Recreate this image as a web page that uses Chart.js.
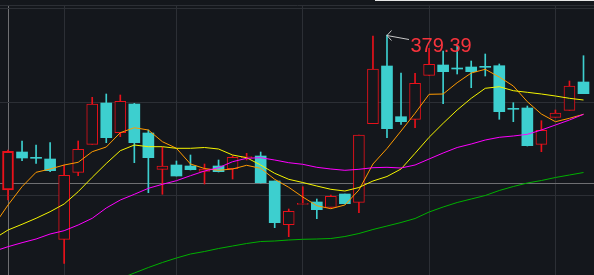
<!DOCTYPE html>
<html>
<head>
<meta charset="utf-8">
<title>K线</title>
<script src="https://cdn.jsdelivr.net/npm/chart.js@4.4.0/dist/chart.umd.min.js"></script>
<style>
    html, body { margin: 0; padding: 0; background: #14171c; overflow: hidden; }
    #wrap { width: 594px; height: 275px; position: relative; }
</style>
</head>
<body>
<div id="wrap"><canvas id="kline"></canvas></div>
<script>
// Day 0 sits just off the left edge: only its moving averages show
const opens  = [null, 317.39, 332.59, 330.09, 329.79, 297.67, 324.47, 335.67, 352.19, 340.31, 351.79,
                340.19, 325.67, 327.39, 326.99, 324.87, 326.99, 325.91, 330.35, 330.99, 320.99,
                303.51, 311.63, 312.59, 310.47, 315.79, 312.47, 343.91, 366.99, 346.71, 345.67,
                363.27, 367.39, 365.81, 366.59, 366.49, 367.11, 349.69, 350.19, 335.67, 346.47,
                349.27, 360.59];
const highs  = [null, 333.39, 336.99, 335.39, 336.31, 327.39, 336.99, 354.47, 355.79, 355.39, 352.07,
                341.39, 334.47, 328.99, 331.39, 327.79, 329.39, 331.11, 332.07, 332.59, 320.99,
                309.79, 318.71, 313.79, 315.39, 315.79, 339.39, 378.99, 379.39, 364.19, 364.07,
                374.07, 372.99, 375.39, 368.99, 371.79, 367.79, 352.31, 350.99, 345.11, 349.39,
                360.99, 371.11];
const lows   = [null, 313.39, 329.11, 328.07, 324.71, 288.07, 323.11, 335.67, 336.31, 338.71, 328.31,
                316.31, 315.67, 322.99, 325.39, 319.79, 324.59, 321.79, 329.39, 320.19, 302.31,
                298.71, 311.67, 305.91, 310.47, 311.79, 308.31, 343.91, 338.31, 343.67, 342.31,
                363.27, 351.91, 363.79, 358.31, 362.99, 345.67, 344.71, 334.99, 332.71, 346.47,
                349.27, 355.91];
const closes = [null, 332.87, 330.19, 330.07, 325.11, 323.27, 333.67, 351.79, 338.31, 352.87, 336.31,
                330.31, 326.99, 322.99, 325.51, 325.79, 324.71, 330.47, 330.39, 320.31, 304.31,
                308.87, 311.67, 309.51, 314.87, 311.91, 339.39, 365.79, 341.91, 344.71, 360.07,
                367.67, 364.71, 365.79, 364.71, 366.47, 348.71, 349.67, 335.11, 341.27, 348.19,
                358.99, 355.91];

// moving averages
const ma5  = [303.19, 311.39, 318.71, 324.47, 325.79, 327.39, 328.47, 332.71, 334.59, 340.31, 342.31,
              341.39, 336.71, 334.07, 327.79, 325.99, 325.27, 325.79, 327.27, 326.07, 321.67,
              318.47, 314.59, 311.11, 309.91, 311.39, 317.39, 327.79, 333.99, 340.99, 348.07,
              355.67, 355.79, 360.31, 364.19, 365.67, 362.59, 358.99, 352.71, 347.79, 344.71,
              346.07, 347.67];
const ma10 = [297.87, 301.39, 303.67, 306.07, 308.71, 311.79, 316.71, 322.47, 327.99, 333.11, 335.39,
              334.71, 334.71, 334.07, 334.07, 334.39, 333.79, 331.39, 330.31, 327.39, 324.07,
              321.67, 320.39, 318.99, 317.67, 316.99, 318.39, 320.99, 322.79, 325.79, 332.07,
              338.47, 344.07, 349.39, 354.07, 358.07, 358.71, 357.11, 356.47, 355.79, 354.99,
              354.07, 353.39];
const ma20 = [292.87, 294.71, 296.31, 297.79, 299.79, 301.11, 303.39, 306.07, 310.19, 313.39, 315.67,
              318.07, 319.67, 321.11, 323.11, 324.99, 326.31, 328.71, 330.07, 330.31, 329.39,
              328.31, 327.67, 326.47, 325.79, 325.27, 325.67, 326.31, 326.47, 326.19, 327.39,
              329.79, 332.19, 334.39, 335.79, 337.39, 338.47, 338.99, 339.67, 341.39, 343.39,
              345.39, 347.67];
const ma60 = [null, null, null, null, null, null, null, null, null, 281.95, 284.19,
              286.39, 288.39, 290.19, 291.79, 292.79, 293.99, 294.99, 295.99, 296.79, 296.99,
              297.39, 297.67, 297.79, 297.99, 298.79, 299.99, 301.59, 302.99, 304.39, 305.99,
              308.59, 310.59, 312.39, 313.79, 315.19, 317.19, 318.79, 320.19, 321.19, 322.39,
              323.39, 324.39];

const days = opens.map((_, i) => i);

// grid lines (month breaks) and the crosshair
const dayGrid = [5, 13, 22, 31, 40];
const priceGrid = [389.79, 352.19, 314.99];
const crossDay = 1;
const crossPrice = 319.79;

const BG = '#14171c';
const GRID = '#2c2f35';
const CROSS = '#6e6f72';
const RED = '#e8111a';
const CYAN = '#3dcfcf';

const candleDays = days.filter(i => opens[i] !== null);
const isUp = i => closes[i] > opens[i];

const wickData = candleDays.map(i => ({ x: i, y: [lows[i], highs[i]] }));
const bodyData = candleDays.map(i => ({ x: i, y: [opens[i], closes[i]] }));
const wickColors = candleDays.map(i => isUp(i) ? RED : CYAN);
const bodyFill = candleDays.map(i => isUp(i) ? BG : CYAN);
const bodyBorder = candleDays.map(i => isUp(i) ? RED : CYAN);
const bodyBorderWidth = candleDays.map(i => i === crossDay ? 2 : (isUp(i) ? 1 : 0));

function maLine(values, color) {
    return {
        type: 'line',
        data: days.map(i => ({ x: i, y: values[i] })),
        borderColor: color,
        borderWidth: 1,
        pointRadius: 0,
        tension: 0,
        spanGaps: false,
        order: 1
    };
}

// canvas background and the thin light strip on top
const chartBackground = {
    id: 'chartBackground',
    beforeDraw(chart) {
        const ctx = chart.ctx;
        ctx.save();
        ctx.fillStyle = BG;
        ctx.fillRect(0, 0, chart.width, chart.height);
        ctx.fillStyle = '#e6e6e6';
        ctx.fillRect(375, 0, chart.width - 375, 1);
        ctx.restore();
    }
};

// arrow + value on the highest high
const peakLabel = {
    id: 'peakLabel',
    afterDatasetsDraw(chart) {
        const valid = highs.filter(v => v !== null);
        const peak = highs.indexOf(Math.max(...valid));
        const x = chart.scales.x.getPixelForValue(days[peak]);
        const y = chart.scales.y.getPixelForValue(highs[peak]);
        const ctx = chart.ctx;
        ctx.save();
        ctx.strokeStyle = '#c8c8c8';
        ctx.lineWidth = 1;
        ctx.beginPath();
        ctx.moveTo(x + 22, y + 4.5);
        ctx.lineTo(x, y + 0.5);
        ctx.moveTo(x + 4.5, y - 4.5);
        ctx.lineTo(x, y + 0.5);
        ctx.lineTo(x + 4.5, y + 5.5);
        ctx.stroke();
        ctx.fillStyle = '#f7333c';
        ctx.font = '20px "Liberation Sans", Arial, sans-serif';
        ctx.textBaseline = 'alphabetic';
        ctx.fillText(highs[peak].toFixed(2), x + 23.5, y + 16.7);
        ctx.restore();
    }
};

document.addEventListener('DOMContentLoaded', function() {
    const ctx = document.getElementById('kline');
    new Chart(ctx, {
        type: 'bar',
        data: {
            datasets: [
                maLine(ma60, '#00b000'),
                maLine(ma20, '#ff00ff'),
                maLine(ma10, '#f5f500'),
                maLine(ma5, '#ff9a00'),
                {
                    type: 'bar',
                    data: bodyData,
                    backgroundColor: bodyFill,
                    borderColor: bodyBorder,
                    borderWidth: bodyBorderWidth,
                    borderSkipped: false,
                    barThickness: 11,
                    minBarLength: 1,
                    grouped: false,
                    order: 2
                },
                {
                    type: 'bar',
                    data: wickData,
                    backgroundColor: wickColors,
                    borderWidth: 0,
                    barThickness: 1,
                    grouped: false,
                    order: 3
                }
            ]
        },
        options: {
            responsive: true,
            maintainAspectRatio: false,
            animation: false,
            devicePixelRatio: 1,
            events: [],
            layout: { padding: { top: 5, left: 0, right: 0, bottom: 0 } },
            plugins: {
                legend: { display: false },
                tooltip: { enabled: false }
            },
            scales: {
                x: {
                    type: 'linear',
                    position: 'top',
                    min: 0.43,
                    max: 42.748,
                    offset: false,
                    ticks: { display: false },
                    grid: {
                        offset: false,
                        drawTicks: false,
                        lineWidth: 1,
                        color: c => (c.tick && c.tick.value === crossDay) ? CROSS : GRID
                    },
                    border: { display: true, color: GRID, width: 1 },
                    afterBuildTicks: axis => {
                        axis.ticks = [crossDay, ...dayGrid].map(v => ({ value: v }));
                    }
                },
                y: {
                    type: 'linear',
                    min: 283.39,
                    max: 391.39,
                    ticks: { display: false },
                    grid: {
                        drawTicks: false,
                        lineWidth: 1,
                        color: c => (c.tick && c.tick.value === crossPrice) ? CROSS : GRID
                    },
                    border: { display: false },
                    afterBuildTicks: axis => {
                        axis.ticks = [...priceGrid, crossPrice].map(v => ({ value: v }));
                    }
                }
            }
        },
        plugins: [chartBackground, peakLabel]
    });
});
</script>
</body>
</html>
